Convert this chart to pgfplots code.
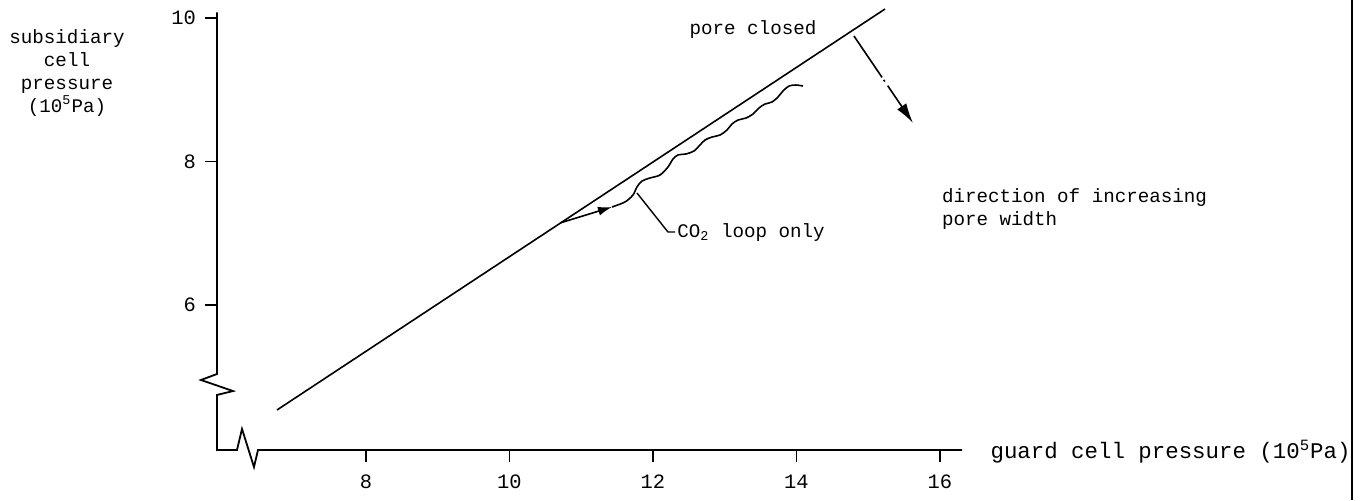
\documentclass[border=0pt]{standalone}
\usepackage{fontspec}
\setmainfont{Liberation Mono}
\usepackage{pgfplots}
\pgfplotsset{compat=1.18}
\usetikzlibrary{arrows.meta}

\begin{document}
\begin{tikzpicture}[font=\fontsize{9.6pt}{11.5pt}\selectfont]
\begin{axis}[
    x=35.875pt, y=35.875pt,
    xmin=5.923, xmax=16.31, ymin=3.979, ymax=10.08,
    axis lines=left,
    axis line style={draw=none},
    clip=false,
    xtick={8,10,12,14,16},
    ytick={6,8,10},
    tick align=outside,
    major tick length=6pt,
    tick style={black, line width=0.9pt},
    /pgf/number format/assume math mode=true,
    ticklabel style={font=\fontsize{10.2pt}{12pt}\selectfont},
    xticklabel style={yshift=-3pt},
    yticklabel style={xshift=-1pt},
]
% truncated axes with break marks
\draw[line width=0.9pt] (axis cs:5.923,10.08) -- (axis cs:5.923,5.038)
    -- (axis cs:5.700,4.955) -- (axis cs:6.146,4.801) -- (axis cs:5.923,4.746)
    -- (axis cs:5.923,3.979) -- (axis cs:6.202,3.979) -- (axis cs:6.272,4.272)
    -- (axis cs:6.439,3.742) -- (axis cs:6.495,3.979) -- (axis cs:16.307,3.979);

% pore closed line
\addplot[black, line width=0.8pt] coordinates {(6.760,4.537) (15.233,10.125)};

% CO2 loop
\addplot[black, line width=0.8pt, -{Latex[length=7pt,width=4.5pt]}]
    coordinates {(10.704,7.143) (11.429,7.366)};
\addplot[black, line width=0.8pt, smooth, tension=0.5] coordinates {
    (11.429,7.366) (11.610,7.436) (11.721,7.533) (11.777,7.645) (11.847,7.728)
    (11.958,7.770) (12.098,7.812) (12.209,7.923) (12.279,8.035) (12.348,8.091)
    (12.460,8.105) (12.571,8.146) (12.655,8.230) (12.725,8.300) (12.822,8.341)
    (12.934,8.369) (13.031,8.439) (13.101,8.523) (13.185,8.578) (13.296,8.606)
    (13.394,8.662) (13.477,8.746) (13.561,8.801) (13.659,8.829) (13.742,8.899)
    (13.812,8.983) (13.895,9.052) (13.993,9.066) (14.091,9.052)
};
\addplot[black, line width=0.7pt] coordinates {(11.777,7.561) (12.209,7.017) (12.307,7.017)};
\node[anchor=west, inner sep=1pt] at (axis cs:12.307,7.017) {CO\textsubscript{2} loop only};

% direction arrow
\addplot[black, line width=0.8pt, dash pattern={on 25pt off 1.5pt on 1pt off 2.5pt on 40pt},
    -{Latex[length=10pt,width=5.5pt]}] coordinates {(14.801,9.749) (15.624,8.537)};

% labels
\node at (axis cs:13.394,9.833) {pore closed};
\node[anchor=west, align=left] at (axis cs:15.930,7.340) {direction of increasing\\pore width};
\node[anchor=west, inner sep=0pt, font=\fontsize{11.2pt}{13pt}\selectfont]
    at (axis cs:16.70,3.95) {guard cell pressure (10\textsuperscript{5}Pa)};
\node[align=center] at (axis cs:3.833,9.240) {subsidiary\\cell\\pressure\\(10\textsuperscript{5}Pa)};

% page border at right
\draw[line width=1pt] (axis cs:21.742,10.251) -- (axis cs:21.742,3.282);

\coordinate (bbA) at (axis cs:2.899,10.251);
\coordinate (bbB) at (axis cs:21.868,3.282);
\end{axis}
\pgfresetboundingbox
\path[use as bounding box] (bbA) rectangle (bbB);
\end{tikzpicture}
\end{document}
